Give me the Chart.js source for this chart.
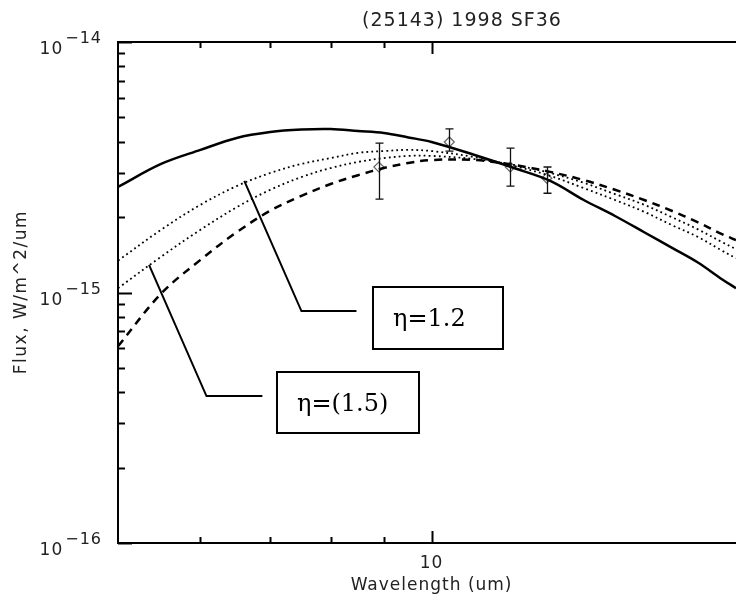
<!DOCTYPE html>
<html>
<head>
<meta charset="utf-8">
<title>(25143) 1998 SF36</title>
<script src="https://cdn.jsdelivr.net/npm/chart.js@4.4.1/dist/chart.umd.min.js"></script>
<style>
  html, body { margin: 0; padding: 0; background: #fff; overflow: hidden; }
  #wrap { width: 736px; height: 598px; }
</style>
</head>
<body>
<div id="wrap"><canvas id="sed" width="736" height="598"></canvas></div>
<script>
// model wavelength grid (um) and thermal model fluxes (W/m^2/um)
const waveGrid = [5, 5.5, 6, 6.5, 7, 7.5, 8, 8.5, 9, 9.5, 10, 11, 12, 13, 14, 15, 16, 17, 18, 19, 19.6];
const fluxSolid = [2.64e-15, 3.26e-15, 3.71e-15, 4.14e-15, 4.37e-15, 4.47e-15, 4.49e-15, 4.41e-15, 4.33e-15, 4.16e-15, 3.99e-15,
                   3.54e-15, 3.14e-15, 2.79e-15, 2.34e-15, 2.02e-15, 1.74e-15, 1.51e-15, 1.32e-15, 1.13e-15, 1.04e-15];
const fluxEta12 = [1.34e-15, 1.78e-15, 2.24e-15, 2.66e-15, 3.00e-15, 3.26e-15, 3.44e-15, 3.61e-15, 3.67e-15, 3.71e-15, 3.67e-15,
                   3.47e-15, 3.20e-15, 2.92e-15, 2.61e-15, 2.34e-15, 2.10e-15, 1.86e-15, 1.67e-15, 1.47e-15, 1.37e-15];
const fluxEta15 = [1.04e-15, 1.39e-15, 1.78e-15, 2.19e-15, 2.57e-15, 2.89e-15, 3.14e-15, 3.32e-15, 3.44e-15, 3.51e-15, 3.51e-15,
                   3.41e-15, 3.23e-15, 3.00e-15, 2.74e-15, 2.47e-15, 2.24e-15, 2.00e-15, 1.79e-15, 1.59e-15, 1.49e-15];
const fluxDashed = [0.61e-15, 0.99e-15, 1.35e-15, 1.74e-15, 2.12e-15, 2.43e-15, 2.71e-15, 2.94e-15, 3.14e-15, 3.29e-15, 3.38e-15,
                    3.38e-15, 3.23e-15, 3.03e-15, 2.81e-15, 2.57e-15, 2.34e-15, 2.12e-15, 1.91e-15, 1.71e-15, 1.62e-15];

// measured photometry with error bars
const obsWave = [8.9, 10.4, 11.9, 12.9];
const obsFlux = [3.17e-15, 3.99e-15, 3.17e-15, 2.86e-15];
const obsLow  = [2.36e-15, 3.67e-15, 2.66e-15, 2.49e-15];
const obsHigh = [3.95e-15, 4.50e-15, 3.77e-15, 3.17e-15];

// axis ticks
const xMajorTicks = [10];
const xMinorTicks = [6, 7, 8, 9];
const xTickLabels = ['10'];
const yMajorTicks = [1e-16, 1e-15, 1e-14];
const yTickExps = ['\u221216', '\u221215', '\u221214'];

// text labels pointing at the two dotted curves: leader path and box, in data units
const notes = [
  { text: '\u03b7=1.2', path: [[6.61, 2.79e-15], [7.50, 0.843e-15], [8.47, 0.843e-15]],
    box: [8.78, 1.052e-15, 11.70, 0.595e-15] },
  { text: '\u03b7=(1.5)', path: [[5.355, 1.29e-15], [6.08, 0.386e-15], [6.88, 0.386e-15]],
    box: [7.11, 0.4815e-15, 9.72, 0.2748e-15] }
];

const toPoints = (xs, ys) => xs.map((v, i) => ({ x: v, y: ys[i] }));

const labelFont = '17px "DejaVu Sans"';
const supFont = '16px "DejaVu Sans"';
const inkColor = '#222';

const frame = {
  id: 'frame',
  afterDraw(chart) {
    const { ctx, chartArea: a, scales: { x, y } } = chart;
    ctx.save();
    ctx.strokeStyle = '#000';
    ctx.fillStyle = inkColor;

    // inward ticks, bottom and top
    ctx.lineWidth = 2;
    xMajorTicks.concat(xMinorTicks).forEach(v => {
      const len = xMajorTicks.includes(v) ? 12 : 6;
      const px = Math.round(x.getPixelForValue(v)) + 0.5;
      ctx.beginPath();
      ctx.moveTo(px, a.bottom); ctx.lineTo(px, a.bottom - len);
      ctx.moveTo(px, a.top); ctx.lineTo(px, a.top + len);
      ctx.stroke();
    });

    // y ticks: majors plus 2..9 minors in each decade
    for (let d = -16; d <= -14; d++) {
      for (let m = 1; m <= 9; m++) {
        const v = m * Math.pow(10, d);
        if (v > 1.0001e-14) break;
        const len = m === 1 ? 14 : 7;
        const py = Math.round(y.getPixelForValue(v)) + 0.5;
        ctx.beginPath();
        ctx.moveTo(a.left, py); ctx.lineTo(a.left + len, py);
        ctx.stroke();
      }
    }

    // labels
    ctx.letterSpacing = '1px';
    ctx.textBaseline = 'alphabetic';
    yMajorTicks.forEach((v, i) => {
      const py = y.getPixelForValue(v);
      ctx.font = supFont;
      ctx.textAlign = 'right';
      const ew = ctx.measureText(yTickExps[i]).width;
      ctx.fillText(yTickExps[i], a.left - 16, py + 1);
      ctx.font = labelFont;
      ctx.fillText('10', a.left - 18 - ew, py + 12);
    });

    ctx.font = labelFont;
    ctx.textAlign = 'center';
    xMajorTicks.forEach((v, i) => {
      ctx.fillText(xTickLabels[i], x.getPixelForValue(v), a.bottom + 25);
    });
    ctx.fillText('Wavelength (um)', x.getPixelForValue(10), a.bottom + 47);
    ctx.font = '19px "DejaVu Sans"';
    ctx.fillText('(25143) 1998 SF36', 462, 26);

    ctx.font = labelFont;
    ctx.letterSpacing = '1.5px';
    ctx.translate(26, 292);
    ctx.rotate(-Math.PI / 2);
    ctx.fillText('Flux, W/m^2/um', 0, 0);
    ctx.restore();
  }
};

const errorBars = {
  id: 'errorBars',
  afterDatasetsDraw(chart) {
    const { ctx, scales: { x, y } } = chart;
    ctx.save();
    ctx.strokeStyle = '#111';
    ctx.lineWidth = 1.3;
    obsWave.forEach((w, i) => {
      const px = Math.round(x.getPixelForValue(w)) + 0.5;
      const top = y.getPixelForValue(obsHigh[i]);
      const bot = y.getPixelForValue(obsLow[i]);
      ctx.beginPath();
      ctx.moveTo(px, top); ctx.lineTo(px, bot);
      ctx.moveTo(px - 4, top); ctx.lineTo(px + 4, top);
      ctx.moveTo(px - 4, bot); ctx.lineTo(px + 4, bot);
      ctx.stroke();
    });
    ctx.restore();
  }
};

const callouts = {
  id: 'callouts',
  afterDraw(chart) {
    const { ctx, scales: { x, y } } = chart;
    ctx.save();
    ctx.strokeStyle = '#000';
    ctx.fillStyle = '#000';
    notes.forEach(n => {
      ctx.lineWidth = 2;
      ctx.beginPath();
      n.path.forEach(([wx, fy], k) => {
        const px = x.getPixelForValue(wx), py = y.getPixelForValue(fy);
        if (k === 0) ctx.moveTo(px, py); else ctx.lineTo(px, py);
      });
      ctx.stroke();
      const x0 = Math.round(x.getPixelForValue(n.box[0])), y0 = Math.round(y.getPixelForValue(n.box[1]));
      const x1 = Math.round(x.getPixelForValue(n.box[2])), y1 = Math.round(y.getPixelForValue(n.box[3]));
      ctx.lineWidth = 2;
      ctx.strokeRect(x0, y0, x1 - x0, y1 - y0);
      ctx.font = '24px "DejaVu Serif"';
      ctx.textAlign = 'left';
      ctx.textBaseline = 'alphabetic';
      ctx.fillText(n.text, x0 + 20, (y0 + y1) / 2 + 8);
    });
    ctx.restore();
  }
};

const logAxis = (pos, min, max, size) => ({
  type: 'logarithmic',
  position: pos,
  min: min,
  max: max,
  grid: { display: false, drawTicks: false },
  border: { display: true, color: '#000', width: 2 },
  ticks: { display: false },
  afterFit(scale) {
    if (pos === 'left') scale.width = size; else scale.height = size;
  }
});

new Chart(document.getElementById('sed'), {
  type: 'line',
  data: {
    datasets: [
      { data: toPoints(waveGrid, fluxSolid), borderColor: '#000', borderWidth: 2.5, pointRadius: 0, tension: 0.35 },
      { data: toPoints(waveGrid, fluxEta12), borderColor: '#000', borderWidth: 1.8, borderDash: [1.8, 3.2], pointRadius: 0, tension: 0.35 },
      { data: toPoints(waveGrid, fluxEta15), borderColor: '#000', borderWidth: 1.8, borderDash: [1.8, 3.2], pointRadius: 0, tension: 0.35 },
      { data: toPoints(waveGrid, fluxDashed), borderColor: '#000', borderWidth: 2.5, borderDash: [8, 6], pointRadius: 0, tension: 0.35 },
      { type: 'scatter', data: toPoints(obsWave, obsFlux), showLine: false, pointStyle: 'rectRot', pointRadius: 5,
        borderColor: '#666', backgroundColor: 'rgba(255,255,255,0)', borderWidth: 1.2 }
    ]
  },
  options: {
    responsive: false,
    animation: false,
    layout: { padding: 0, autoPadding: false },
    plugins: { legend: { display: false }, tooltip: { enabled: false }, title: { display: false } },
    scales: {
      x: logAxis('bottom', 5, 19.6, 55),
      xTop: logAxis('top', 5, 19.6, 42),
      y: logAxis('left', 1e-16, 1e-14, 118)
    }
  },
  plugins: [frame, errorBars, callouts]
});
</script>
</body>
</html>
